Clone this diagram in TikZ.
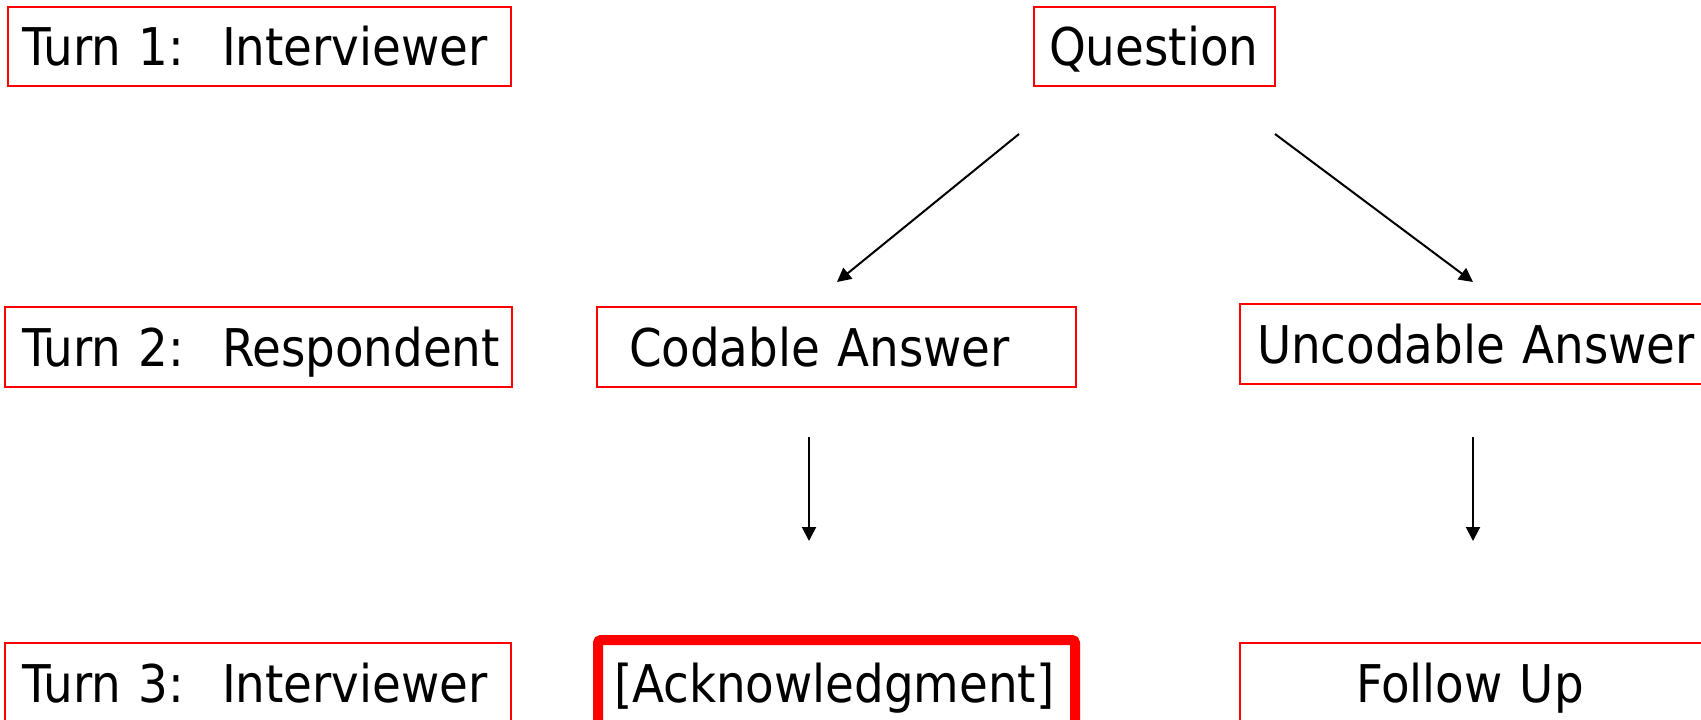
\documentclass[tikz,border=0pt]{standalone}
\usepackage{fontspec}
\setmainfont{DejaVu Sans Condensed}
\usetikzlibrary{arrows.meta}
\begin{document}
\begin{tikzpicture}[x=1pt,y=-1pt,
  rbox/.style={draw=red, line width=2pt, anchor=west, align=left, outer sep=0pt,
    text height=38pt, text depth=0pt, inner ysep=0pt,
    font=\fontsize{52}{60}\selectfont},
  ackbox/.style={rbox, line width=10pt, rounded corners=3pt},
  arr/.style={draw=black, line width=2pt, -{Triangle[length=14pt,width=14pt]}}]
\useasboundingbox (0,0) rectangle (1701,720);

\node[rbox, inner xsep=15pt, text width=473pt, minimum height=79pt] (t1) at (8,46.5) {\mbox{Turn 1:\hspace{38pt}Interviewer}};
\node[rbox, inner xsep=18pt, text width=471pt, minimum height=80pt] (t2) at (5,347) {\mbox{Turn 2:\hspace{38pt}Respondent}};
\node[rbox, inner xsep=18pt, text width=470pt, minimum height=80pt] (t3) at (5,683) {\mbox{Turn 3:\hspace{38pt}Interviewer}};

\node[rbox, inner xsep=15pt, text width=211pt, minimum height=79pt] (q) at (1034,46.5) {\mbox{Question}};
\node[rbox, inner xsep=32pt, text width=415pt, minimum height=80pt] (ca) at (597,347) {\mbox{Codable Answer}};
\node[rbox, inner xsep=17pt, text width=446pt, minimum height=80pt] (ua) at (1240,344) {\mbox{Uncodable Answer}};
\node[ackbox, inner xsep=16pt, text width=445pt, minimum height=86pt] (ack) at (598,683) {\mbox{[Acknowledgment]}};
\node[rbox, inner xsep=116pt, text width=356pt, minimum height=80pt] (fu) at (1240,683) {\mbox{Follow Up}};

\coordinate (a1s) at (1019,134);
\coordinate (a1e) at (837,282);
\coordinate (a2s) at (1275,134);
\coordinate (a2e) at (1473,282);
\coordinate (a3s) at (809,437);
\coordinate (a3e) at (809,541);
\coordinate (a4s) at (1473,437);
\coordinate (a4e) at (1473,541);

\draw[arr] (a1s) -- (a1e);
\draw[arr] (a2s) -- (a2e);
\draw[arr] (a3s) -- (a3e);
\draw[arr] (a4s) -- (a4e);
\end{tikzpicture}
\end{document}
